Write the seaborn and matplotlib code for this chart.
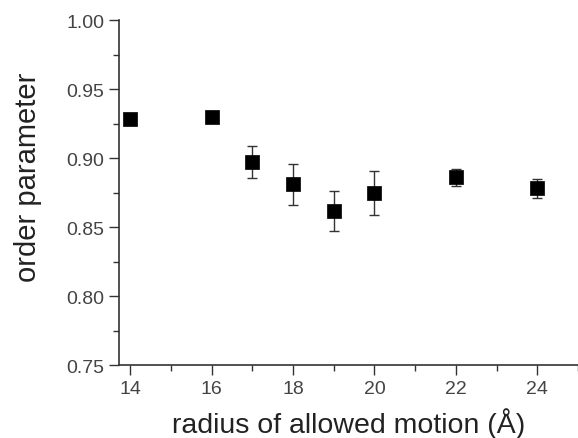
import matplotlib
matplotlib.use("Agg")
import matplotlib.pyplot as plt
import seaborn as sns
import pandas as pd
from matplotlib.ticker import MultipleLocator

radius = [14, 16, 17, 18, 19, 20, 22, 24]
order_param = [0.928, 0.930, 0.897, 0.881, 0.862, 0.875, 0.886, 0.878]
err = [0.002, 0.002, 0.0115, 0.015, 0.0145, 0.016, 0.006, 0.007]

df = pd.DataFrame({"radius": radius, "order": order_param, "err": err})

sns.set_style("ticks")
plt.rcParams["font.family"] = ["Liberation Sans", "DejaVu Sans"]

fig = plt.figure(figsize=(5.78, 4.39), dpi=100)
ax = fig.add_axes([0.206, 0.166, 0.794, 0.786])

ax.errorbar(df["radius"], df["order"], yerr=df["err"], fmt="none",
            ecolor="#333333", elinewidth=1.0, capsize=3.5, capthick=1.0, zorder=2)
sns.scatterplot(data=df, x="radius", y="order", marker="s", s=95,
                color="black", edgecolor="black", linewidth=0.5, ax=ax, zorder=3)

ax.set_xlim(13.73, 25.0)
ax.set_ylim(0.75, 1.00)
ax.set_xticks([14, 16, 18, 20, 22, 24])
ax.set_yticks([0.75, 0.80, 0.85, 0.90, 0.95, 1.00])
ax.set_yticklabels(["0.75", "0.80", "0.85", "0.90", "0.95", "1.00"])
ax.xaxis.set_minor_locator(MultipleLocator(1))
ax.yaxis.set_minor_locator(MultipleLocator(0.025))

for s in ["top", "right"]:
    ax.spines[s].set_visible(False)
for s in ["left", "bottom"]:
    ax.spines[s].set_color("#333333")
    ax.spines[s].set_linewidth(1.2)

ax.tick_params(which="major", direction="out", length=7, width=1.0, color="#333333",
               labelsize=14, labelcolor="#444444")
ax.tick_params(which="minor", direction="out", length=4, width=1.0, color="#333333")

ax.set_xlabel("radius of allowed motion (Å)", fontsize=20.5, color="#222222")
ax.set_ylabel("order parameter", fontsize=21, color="#222222")
ax.yaxis.set_label_coords(-0.169, 0.546)
ax.xaxis.set_label_coords(0.5, -0.122)

fig.savefig("out.png", dpi=100)
